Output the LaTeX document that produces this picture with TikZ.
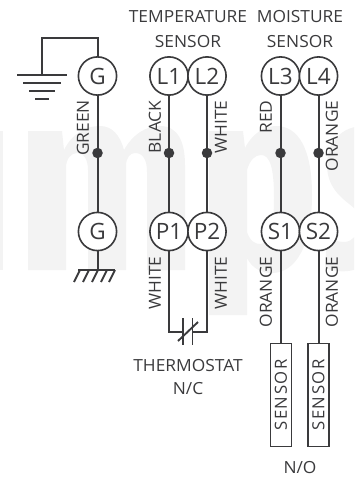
\documentclass[tikz,border=0pt]{standalone}
\usepackage{fontspec}
\setmainfont{Open Sans}
\definecolor{ink}{HTML}{3A3A3C}
\definecolor{wm}{HTML}{F3F3F3}
\newfontfamily\lblfont[FakeStretch=1.04]{Open Sans}
\newfontfamily\boxfont[LetterSpace=9]{Open Sans}
\tikzset{
  x=1pt,y=-1pt,
  term/.style={circle,draw=ink,line width=1.6pt,minimum size=38.2pt,inner sep=0pt,fill=white,text=ink,font=\fontsize{22.5}{22.5}\selectfont},
  wire/.style={draw=ink,line width=2pt},
  gnd/.style={draw=ink,line width=1.9pt},
  junction/.style={circle,fill=ink,minimum size=10.5pt,inner sep=0pt},
  lbl/.style={text=ink,font=\lblfont\fontsize{16.7}{16.7}\selectfont,inner sep=0pt},
  vlbl/.style={lbl,rotate=90},
  sensorbox/.style={draw=ink,line width=1.9pt,fill=white,minimum width=21pt,minimum height=103pt,inner sep=0pt,text=ink},
}
\begin{document}
\begin{tikzpicture}
\useasboundingbox (0,0) rectangle (354,479);
% watermark
\begin{scope}
\clip (0,0) rectangle (354,479);
\fill[wm] (-20,131) rectangle (3,270);
\fill[wm] (28,131) -- (62,131) -- (64,150) .. controls (72,134) and (85,126) .. (100,126)
  .. controls (112,126) and (120,135) .. (124,150) .. controls (133,134) and (146,126) .. (160,126)
  .. controls (178,126) and (185,142) .. (185,165) -- (185,270) -- (147,270) -- (147,172)
  .. controls (147,160) and (143,153) .. (135,153) .. controls (130,153) and (126,158) .. (126,166)
  -- (126,270) -- (88,270) -- (88,170) .. controls (88,160) and (84,153) .. (77,153)
  .. controls (71,153) and (66,159) .. (66,168) -- (66,270) -- (28,270) -- cycle;
\fill[wm,even odd rule] (209,131) -- (243,131) -- (245,148) .. controls (252,134) and (264,126) .. (276,126)
  .. controls (298,126) and (312,148) .. (312,195) .. controls (312,245) and (296,273) .. (272,273)
  .. controls (261,273) and (252,268) .. (247,258) -- (247,315) -- (209,315) -- cycle
  (247,170) -- (247,232) .. controls (250,241) and (255,244) .. (260,244)
  .. controls (269,244) and (274,228) .. (274,198) .. controls (274,168) and (270,155) .. (261,155)
  .. controls (255,155) and (250,160) .. (247,170) -- cycle;
\fill[wm] (372,127) .. controls (345,122) and (327,140) .. (327,165)
  .. controls (327,190) and (345,200) .. (354,208) .. controls (362,214) and (362,240) .. (345,242)
  .. controls (338,242) and (332,240) .. (327,237) -- (325,268) .. controls (345,276) and (380,272) .. (380,230)
  -- (380,127) -- cycle;
\end{scope}
% terminals
\node[term] (Ga) at (97.5,76) {G};
\node[term] (L1) at (169,76) {L1};
\node[term] (L2) at (207,76) {L2};
\node[term] (L3) at (280.5,76) {L3};
\node[term] (L4) at (318.5,76) {L4};
\node[term] (Gb) at (97.5,231.5) {G};
\node[term] (P1) at (169,231.5) {P1};
\node[term] (P2) at (207,231.5) {P2};
\node[term] (S1) at (280.5,231.5) {S1};
\node[term] (S2) at (318.5,231.5) {S2};
% wires
\draw[wire] (Ga) -- (Gb);
\draw[wire] (L1) -- (P1);
\draw[wire] (L2) -- (P2);
\draw[wire] (L3) -- (S1);
\draw[wire] (L4) -- (S2);
\node[junction] (j0) at (97.5,153) {};
\node[junction] (j1) at (169,153) {};
\node[junction] (j2) at (207,153) {};
\node[junction] (j3) at (280.5,153) {};
\node[junction] (j4) at (318.5,153) {};
% earth
\coordinate (eTop) at (42,75);
\draw[wire] (Ga.north) -- (97.5,37.5) -- (42,37.5) -- (eTop);
\draw[gnd] (17,75) -- (67,75);
\draw[gnd] (23,83) -- (61,83);
\draw[gnd] (29,91) -- (55,91);
\draw[gnd] (35,99) -- (49,99);
% chassis
\coordinate (cTop) at (97.5,270);
\draw[wire] (Gb) -- (cTop);
\draw[gnd] (78,270) -- (115,270);
\foreach \hx in {80,89,98,107,115} \draw[gnd] (\hx,270) -- (\hx-6,282);
% thermostat
\coordinate (tL) at (183,331.5);
\coordinate (tR) at (192.5,331.5);
\draw[wire] (P1) -- (169,331.5) -- (tL);
\draw[wire] (P2) -- (207,331.5) -- (tR);
\draw[gnd] (183,318) -- (183,345);
\draw[gnd] (192.5,318) -- (192.5,345);
\draw[gnd] (178,341) -- (198,322);
% sensors
\node[sensorbox] (B1) at (281,395) {\rotatebox{90}{\boxfont\fontsize{16.7}{16.7}\selectfont SENSOR}};
\node[sensorbox] (B2) at (318.5,395) {\rotatebox{90}{\boxfont\fontsize{16.7}{16.7}\selectfont SENSOR}};
\draw[wire] (S1) -- (B1.north -| S1);
\draw[wire] (S2) -- (B2.north -| S2);
% labels
\node[vlbl] (t1) at (83,128) {GREEN};
\node[vlbl] (t2) at (155,127) {BLACK};
\node[vlbl] (t3) at (221,127) {WHITE};
\node[vlbl] (t4) at (266,117) {RED};
\node[vlbl] (t5) at (332,136) {ORANGE};
\node[vlbl] (t6) at (155,283) {WHITE};
\node[vlbl] (t7) at (221,283) {WHITE};
\node[vlbl] (t8) at (266,292) {ORANGE};
\node[vlbl] (t9) at (332,292) {ORANGE};
\node[lbl] (h1) at (188,17) {TEMPERATURE};
\node[lbl] (h2) at (188,42) {SENSOR};
\node[lbl] (h3) at (300,17) {MOISTURE};
\node[lbl] (h4) at (300,42) {SENSOR};
\node[lbl] (h5) at (188,366) {THERMOSTAT};
\node[lbl] (h6) at (188,389) {N/C};
\node[lbl] (h7) at (300,468) {N/O};
\end{tikzpicture}
\end{document}
